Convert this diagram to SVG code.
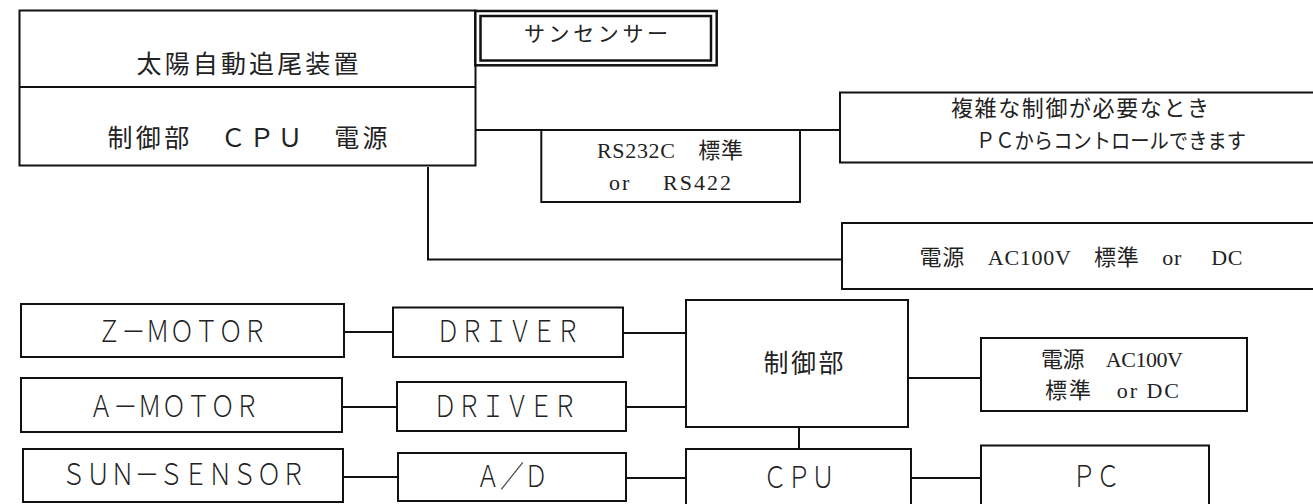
<svg xmlns="http://www.w3.org/2000/svg" width="1313" height="504" viewBox="0 0 1313 504">
<style>
.b{fill:#fff;stroke:#111;stroke-width:2}
.l{fill:none;stroke:#111;stroke-width:2}
.m{font-family:"Liberation Serif","Noto Sans CJK JP",serif;fill:#222;text-anchor:middle}
.g{font-family:"Noto Sans CJK JP","Noto Sans",sans-serif;font-weight:300;fill:#222;text-anchor:middle;font-size:30px}
</style>
<rect width="1313" height="504" fill="#fff"/>
<g id="connectors">
<path class="l" d="M476 130H840"/>
<path class="l" d="M428 167V259.5H842"/>
<path class="l" d="M344 332H393M342 407H397M343 477H398"/>
<path class="l" d="M623 333H686M626 407H686M626 478H686"/>
<path class="l" d="M908 378H981M911 478H981M799 427V449"/>
</g>
<g id="main">
<rect class="b" x="19.5" y="10.5" width="456" height="155"/>
<path class="l" d="M19.5 87H475.5"/>
<text class="m" x="247.5" y="73" font-size="25" textLength="222">太陽自動追尾装置</text>
<text class="m" x="247.5" y="147" font-size="25" textLength="280">制御部　ＣＰＵ　電源</text>
</g>
<g id="sunsensor">
<rect x="475.3" y="11" width="241.4" height="54.3" fill="#fff" stroke="#111" stroke-width="2.5"/>
<rect x="480.5" y="16" width="230.5" height="44.5" fill="none" stroke="#111" stroke-width="2.5"/>
<text class="m" x="596" y="41" font-size="21" textLength="144">サンセンサー</text>
</g>
<g id="rs">
<rect class="b" x="541.3" y="130" width="258.7" height="72"/>
<text class="m" x="670" y="158" font-size="22" textLength="146">RS232C　標準</text>
<text class="m" x="670" y="190" font-size="22" textLength="122" xml:space="preserve">or　 RS422</text>
</g>
<g id="pccontrol">
<rect class="b" x="840" y="92.5" width="480" height="70"/>
<text class="m" x="1080" y="116" font-size="22" textLength="258">複雑な制御が必要なとき</text>
<text class="m" x="1111" y="148" font-size="21" textLength="270" lengthAdjust="spacingAndGlyphs">ＰＣからコントロールできます</text>
</g>
<g id="power">
<rect class="b" x="842" y="223" width="480" height="66"/>
<text class="m" x="1081" y="265" font-size="22" textLength="323" xml:space="preserve">電源　AC100V　標準　or　 DC</text>
</g>
<g id="zmotor">
<rect class="b" x="21" y="304" width="323" height="53"/>
<text class="g" x="182" y="342" textLength="170" lengthAdjust="spacingAndGlyphs">Ｚ－ＭＯＴＯＲ</text>
</g>
<g id="amotor">
<rect class="b" x="21" y="378" width="321" height="54"/>
<text class="g" x="174" y="417" textLength="170" lengthAdjust="spacingAndGlyphs">Ａ－ＭＯＴＯＲ</text>
</g>
<g id="sunsensor2">
<rect class="b" x="23" y="449" width="320" height="53"/>
<text class="g" x="183.5" y="485" textLength="244" lengthAdjust="spacingAndGlyphs">ＳＵＮ－ＳＥＮＳＯＲ</text>
</g>
<g id="driver1">
<rect class="b" x="393" y="307.5" width="230" height="49.5"/>
<text class="g" x="508" y="342" textLength="144" lengthAdjust="spacingAndGlyphs">ＤＲＩＶＥＲ</text>
</g>
<g id="driver2">
<rect class="b" x="397" y="382" width="229" height="49"/>
<text class="g" x="505" y="417" textLength="144" lengthAdjust="spacingAndGlyphs">ＤＲＩＶＥＲ</text>
</g>
<g id="ad">
<rect class="b" x="398" y="453" width="228" height="48"/>
<text class="g" x="512" y="487" textLength="72" lengthAdjust="spacingAndGlyphs">Ａ／Ｄ</text>
</g>
<g id="seigyo">
<rect class="b" x="686" y="300" width="222" height="127"/>
<text class="g" x="803.5" y="372" style="font-size:25px;font-weight:400" textLength="80">制御部</text>
</g>
<g id="cpu">
<rect class="b" x="686" y="449" width="225" height="70"/>
<text class="g" x="799" y="488" textLength="72" lengthAdjust="spacingAndGlyphs">ＣＰＵ</text>
</g>
<g id="power2">
<rect class="b" x="981" y="338" width="266" height="73"/>
<text class="m" x="1112" y="367" font-size="22" textLength="142">電源　AC100V</text>
<text class="m" x="1112" y="398" font-size="22" textLength="134">標準　or DC</text>
</g>
<g id="pc">
<rect class="b" x="981" y="445.5" width="228" height="70"/>
<text class="g" x="1096" y="487" textLength="48" lengthAdjust="spacingAndGlyphs">ＰＣ</text>
</g>
</svg>
